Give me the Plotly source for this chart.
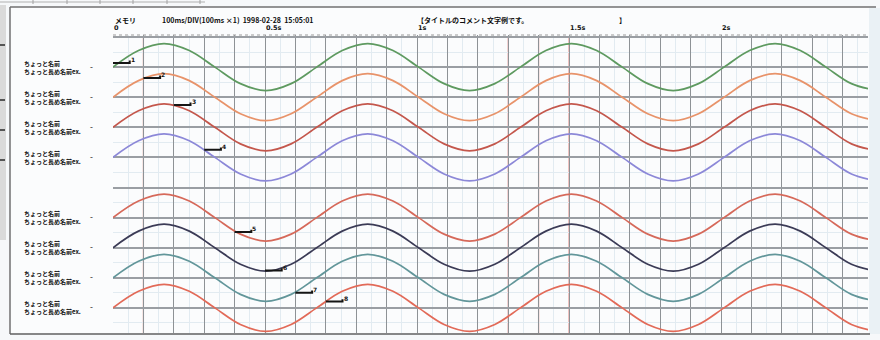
import plotly.graph_objects as go

# ---------------- data ----------------
# time (ms) of key points (all pens are in phase)
wave_t = [0, 84, 168, 251, 335, 419, 503, 586, 670, 754, 838, 921, 1005, 1089,
          1173, 1256, 1340, 1424, 1508, 1591, 1675, 1759, 1843, 1926, 2010,
          2094, 2178, 2261, 2345, 2429, 2513]
# deflection from channel baseline (in grid divisions)
wave_v = [0, 0.55, 0.78, 0.55, 0, -0.55, -0.78, -0.55, 0, 0.55, 0.78, 0.55, 0,
          -0.55, -0.78, -0.55, 0, 0.55, 0.78, 0.55, 0, -0.55, -0.78, -0.55, 0,
          0.55, 0.78, 0.55, 0, -0.55, -0.78]

channel_names = ["1", "2", "3", "4", "5", "6", "7", "8"]
channel_base = [9, 8, 7, 6, 4, 3, 2, 1]           # baseline in divisions
channel_colors = ["#5e9a60", "#e8936a", "#c4574c", "#8c88d8",
                  "#d6695a", "#3b3b56", "#62969a", "#e26a58"]
label_line1 = ["ちょっと名前"] * 8
label_line2 = ["ちょっと長め名前ex."] * 8

# pen ID markers: start time (ms), length (ms) and level (divisions)
marker_t = [0, 100, 200, 300, 400, 500, 600, 700]
marker_len = 55
marker_y = [9.14, 8.64, 7.74, 6.25, 3.52, 2.24, 1.50, 1.21]

time_ticks = [0, 500, 1000, 1500, 2000]
time_labels = ["0", "0.5s", "1s", "1.5s", "2s"]
event_lines = [100, 1300, 1400, 1500]             # red event lines (ms)

header_memo = "メモリ"
header_info = "100ms/DIV(100ms ×1)  1998-02-28  15:05:01"
header_title = "【タイトルのコメント文字例です。"
header_close = "】"

# ---------------- figure ----------------
W, H = 880, 340
def px(x):
    return x / W
def py(y):
    return 1 - y / H

X0, X1 = 113, 868
Y0, Y1 = 35, 333
x_range = [0, (X1 - X0) / 30.4 * 100]
y_range = [10 - (Y1 - 37) / 30.1, 10 + (37 - Y0) / 30.1]

fig = go.Figure()

for i, name in enumerate(channel_names):
    ys = [channel_base[i] + v for v in wave_v]
    fig.add_trace(go.Scatter(
        x=wave_t, y=ys, mode="lines", name=name,
        line=dict(color=channel_colors[i], width=1.7, shape="spline", smoothing=1.0),
        hoverinfo="skip", showlegend=False))

# pen ID markers
for i, name in enumerate(channel_names):
    t0 = marker_t[i]
    t1 = t0 + marker_len
    fig.add_trace(go.Scatter(
        x=[t0, t1, t1], y=[marker_y[i], marker_y[i], marker_y[i] + 0.08],
        mode="lines", line=dict(color="#151515", width=2),
        hoverinfo="skip", showlegend=False))
    fig.add_annotation(x=t1, y=marker_y[i], xref="x", yref="y", text="<b>" + name + "</b>",
                       showarrow=False, xanchor="left", yanchor="bottom", xshift=-1, yshift=-2,
                       font=dict(size=6, color="#151515", family="DejaVu Sans"))

shapes = []
# frame
shapes.append(dict(type="rect", xref="paper", yref="paper", x0=px(10), x1=px(876), y0=py(333), y1=py(7),
                   fillcolor="#fbfcfd", line=dict(width=0), layer="below"))
shapes.append(dict(type="line", xref="paper", yref="paper", x0=px(10), x1=px(876), y0=py(7), y1=py(7),
                   line=dict(color="#707070", width=1.5)))
shapes.append(dict(type="line", xref="paper", yref="paper", x0=px(10), x1=px(10), y0=py(7), y1=py(334),
                   line=dict(color="#707070", width=1.5)))
shapes.append(dict(type="line", xref="paper", yref="paper", x0=px(10), x1=px(870), y0=py(334), y1=py(334),
                   line=dict(color="#606060", width=1.5)))
# right strip
shapes.append(dict(type="rect", xref="paper", yref="paper", x0=px(869), x1=px(880), y0=py(334), y1=py(8),
                   fillcolor="#eaf1f5", line=dict(width=0), layer="below"))
# top-left ruler remnant
shapes.append(dict(type="line", xref="paper", yref="paper", x0=px(0), x1=px(205), y0=py(2), y1=py(2),
                   line=dict(color="#b0b0b0", width=1)))
for xr in [33, 67, 100, 133, 167, 200]:
    shapes.append(dict(type="line", xref="paper", yref="paper", x0=px(xr), x1=px(xr), y0=py(0), y1=py(4),
                       line=dict(color="#a0a0a0", width=1)))
# left strip
shapes.append(dict(type="rect", xref="paper", yref="paper", x0=0, x1=px(6), y0=py(240), y1=py(5),
                   fillcolor="#dadada", line=dict(width=0), layer="below"))
for ym in [45, 100, 130, 160]:
    shapes.append(dict(type="line", xref="paper", yref="paper", x0=0, x1=px(5), y0=py(ym), y1=py(ym),
                       line=dict(color="#555555", width=2)))

# event (red) lines
for t in event_lines:
    shapes.append(dict(type="line", xref="x", yref="paper", x0=t, x1=t, y0=py(Y1), y1=py(Y0 + 2),
                       line=dict(color="#e6a3a0", width=1.3), layer="below"))
# dashed top boundary
shapes.append(dict(type="line", xref="paper", yref="paper", x0=px(X0), x1=px(X1), y0=py(Y0), y1=py(Y0),
                   line=dict(color="#9a9a9a", width=1, dash="dot")))

fig.update_layout(shapes=shapes)

# channel labels
for i in range(len(channel_names)):
    fig.add_annotation(x=px(22), y=channel_base[i], xref="paper", yref="y",
                       text="<b>" + label_line1[i] + "<br>" + label_line2[i] + "</b>",
                       showarrow=False, xanchor="left", yanchor="middle", align="left",
                       font=dict(size=6, color="#0e0e0e", family="Noto Sans CJK JP"))
    fig.add_annotation(x=px(88), y=channel_base[i], xref="paper", yref="y", text="-",
                       showarrow=False, xanchor="left", yanchor="middle",
                       font=dict(size=8, color="#333333", family="DejaVu Sans"))

# time labels
for t, lab in zip(time_ticks, time_labels):
    fig.add_annotation(x=t, y=py(Y0 - 1), xref="x", yref="paper", text="<b>" + lab + "</b>",
                       showarrow=False, xanchor="left", yanchor="bottom", xshift=-1,
                       font=dict(size=6.5, color="#111111", family="DejaVu Sans"))

# header
hdr_font = dict(size=7, color="#0e0e0e", family="Noto Sans CJK JP")
for xh, txt in [(113, header_memo), (160, header_info), (415, header_title), (617, header_close)]:
    fig.add_annotation(x=px(xh), y=py(20), xref="paper", yref="paper", text="<b>" + txt + "</b>",
                       showarrow=False, xanchor="left", yanchor="middle", font=hdr_font)

fig.update_layout(
    width=W, height=H, margin=dict(l=0, r=0, t=0, b=0),
    paper_bgcolor="#f6f8fa", plot_bgcolor="#eef4f9",
    xaxis=dict(domain=[px(X0), px(X1)], range=x_range, dtick=100, tick0=0,
               showgrid=True, gridcolor="#8e9296", gridwidth=1.2,
               minor=dict(dtick=50, showgrid=True, gridcolor="#e2ebf1", gridwidth=0.6),
               showticklabels=False, zeroline=False, showline=False, ticks=""),
    yaxis=dict(domain=[py(Y1), py(Y0)], range=y_range, dtick=1, tick0=0,
               showgrid=True, gridcolor="#9a9ea3", gridwidth=1.8,
               minor=dict(dtick=0.5, showgrid=True, gridcolor="#e2ebf1", gridwidth=0.6),
               showticklabels=False, zeroline=False, showline=False, ticks=""),
)

fig.write_html("out.html")
